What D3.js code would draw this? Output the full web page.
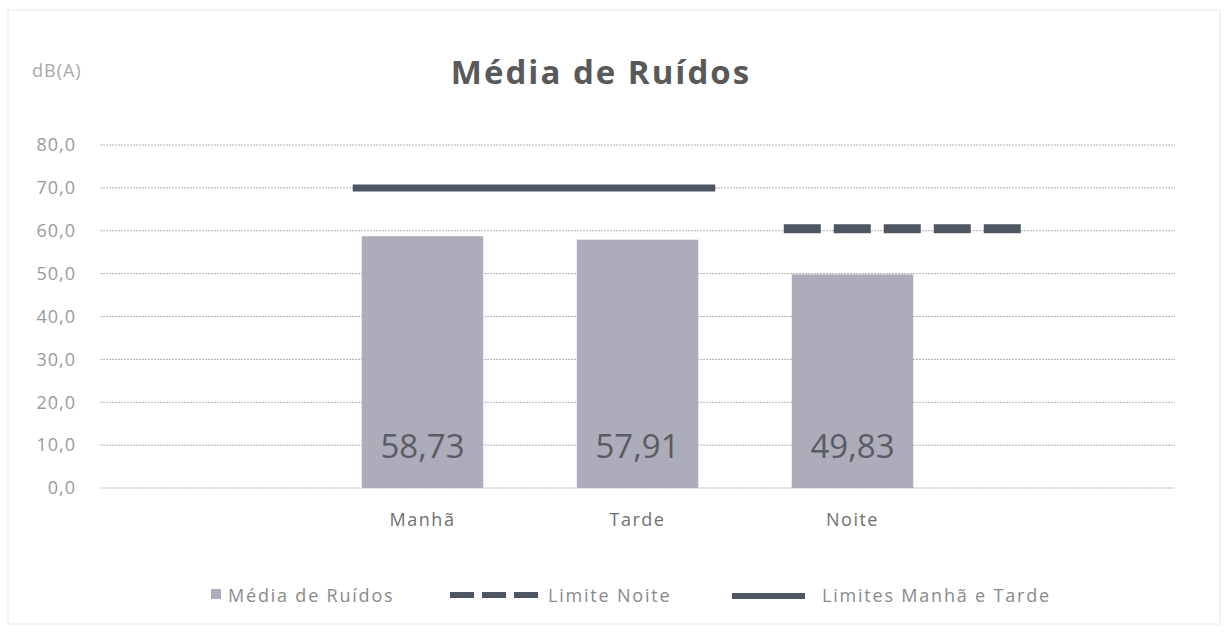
<!DOCTYPE html>
<html>
<head>
<meta charset="utf-8">
<script src="https://cdn.jsdelivr.net/npm/d3@7"></script>
<style>
  body { margin: 0; background: #fff; }
  text { font-family: "Open Sans", Lato, sans-serif; }
</style>
</head>
<body>
<div id="vis1"></div>
<script>
// data
const categories = ["Manhã", "Tarde", "Noite"];
const mediaValues = [58.73, 57.91, 49.83];
const yTicks = [0, 10, 20, 30, 40, 50, 60, 70, 80];
const limiteNoite = [{cat: "Noite", value: 60}];
const limitesManhaTarde = [{cat: "Manhã", value: 70}, {cat: "Tarde", value: 70}];
const legendLabels = ["Média de Ruídos", "Limite Noite", "Limites Manhã e Tarde"];

const FRAME_WIDTH = 1227;
const FRAME_HEIGHT = 634;
const PLOT = {left: 100, right: 1175, top: 145, bottom: 488};

const FRAME1 = d3.select("#vis1")
  .append("svg")
    .attr("width", FRAME_WIDTH)
    .attr("height", FRAME_HEIGHT);

// faint frame of the chart
FRAME1.append("rect")
  .attr("x", 8).attr("y", 10)
  .attr("width", 1212).attr("height", 614)
  .attr("fill", "none")
  .attr("stroke", "#e8e8e8");

// scales: plot area is split in 5 slots, bars in the middle 3
const slot = (PLOT.right - PLOT.left) / 5;
const X_SCALE = d3.scaleBand()
  .domain(categories)
  .range([PLOT.left + slot, PLOT.right - slot])
  .paddingInner(0.435)
  .paddingOuter(0.2175);
const Y_SCALE = d3.scaleLinear()
  .domain([0, 80])
  .range([PLOT.bottom, PLOT.top]);

// gridlines
FRAME1.append("g")
  .selectAll("line")
  .data(yTicks)
  .enter()
  .append("line")
    .attr("x1", PLOT.left).attr("x2", PLOT.right)
    .attr("y1", d => Y_SCALE(d)).attr("y2", d => Y_SCALE(d))
    .attr("stroke", "#b0b0b0")
    .attr("stroke-width", 1)
    .attr("stroke-dasharray", "2,1");

// y axis
const yAxis = FRAME1.append("g")
  .attr("transform", "translate(76,0)")
  .call(d3.axisLeft(Y_SCALE).tickValues(yTicks).tickSize(0).tickPadding(0)
    .tickFormat(d => d3.format(".1f")(d).replace(".", ",")));
yAxis.select(".domain").remove();
yAxis.selectAll("text")
  .attr("font-size", "18px")
  .attr("letter-spacing", "1px")
  .attr("fill", "#9a9a9a")
  .attr("font-family", "'Open Sans', sans-serif");

FRAME1.append("text")
  .attr("x", 32).attr("y", 77)
  .attr("font-size", "18px")
  .attr("letter-spacing", "1px")
  .attr("fill", "#a8a8a8")
  .text("dB(A)");

// title
FRAME1.append("text")
  .attr("x", 601).attr("y", 84)
  .attr("text-anchor", "middle")
  .attr("font-size", "33px")
  .attr("font-weight", "bold")
  .attr("letter-spacing", "2px")
  .attr("fill", "#595959")
  .text("Média de Ruídos");

// bars
FRAME1.selectAll(".bar")
  .data(categories)
  .enter()
  .append("rect")
    .attr("class", "bar")
    .attr("x", d => X_SCALE(d))
    .attr("y", (d, i) => Y_SCALE(mediaValues[i]))
    .attr("width", X_SCALE.bandwidth())
    .attr("height", (d, i) => PLOT.bottom - Y_SCALE(mediaValues[i]))
    .attr("fill", "#acacba");

// bar value labels
FRAME1.selectAll(".vlabel")
  .data(categories)
  .enter()
  .append("text")
    .attr("x", d => X_SCALE(d) + X_SCALE.bandwidth() / 2)
    .attr("y", Y_SCALE(10) + 13)
    .attr("text-anchor", "middle")
    .attr("font-size", "33px")
    .attr("fill", "#5b5b63")
    .text((d, i) => d3.format(".2f")(mediaValues[i]).replace(".", ","));

// category labels
const xAxis = FRAME1.append("g")
  .attr("transform", "translate(0," + (PLOT.bottom + 22) + ")")
  .call(d3.axisBottom(X_SCALE).tickSize(0));
xAxis.select(".domain").remove();
xAxis.selectAll("text")
  .attr("font-size", "18px")
  .attr("letter-spacing", "1.5px")
  .attr("fill", "#707070")
  .attr("font-family", "'Open Sans', sans-serif");

// limit lines
const lineColor = "#4d5662";
const bw = X_SCALE.bandwidth();
FRAME1.append("line")
  .attr("x1", X_SCALE(limitesManhaTarde[0].cat) - 9)
  .attr("x2", X_SCALE(limitesManhaTarde[1].cat) + bw + 17)
  .attr("y1", Y_SCALE(limitesManhaTarde[0].value))
  .attr("y2", Y_SCALE(limitesManhaTarde[1].value))
  .attr("stroke", lineColor)
  .attr("stroke-width", 7);

FRAME1.append("line")
  .attr("x1", X_SCALE(limiteNoite[0].cat) - 8)
  .attr("x2", X_SCALE(limiteNoite[0].cat) + bw + 110)
  .attr("y1", Y_SCALE(limiteNoite[0].value) - 2)
  .attr("y2", Y_SCALE(limiteNoite[0].value) - 2)
  .attr("stroke", lineColor)
  .attr("stroke-width", 9)
  .attr("stroke-dasharray", "37,13");

// legend
const legend = FRAME1.append("g");
legend.append("rect")
  .attr("x", 211).attr("y", 589).attr("width", 10).attr("height", 10)
  .attr("fill", "#acacba");
legend.append("line")
  .attr("x1", 450).attr("x2", 538).attr("y1", 595).attr("y2", 595)
  .attr("stroke", lineColor).attr("stroke-width", 6)
  .attr("stroke-dasharray", "24,8");
legend.append("line")
  .attr("x1", 732).attr("x2", 805).attr("y1", 596).attr("y2", 596)
  .attr("stroke", lineColor).attr("stroke-width", 6);
const legendX = [228, 548, 822];
legend.selectAll(".ltext")
  .data(legendLabels)
  .enter()
  .append("text")
    .attr("x", (d, i) => legendX[i])
    .attr("y", 602)
    .attr("font-size", "18px")
    .attr("letter-spacing", "1.8px")
    .attr("fill", "#8a8a8a")
    .text(d => d);
</script>
</body>
</html>
